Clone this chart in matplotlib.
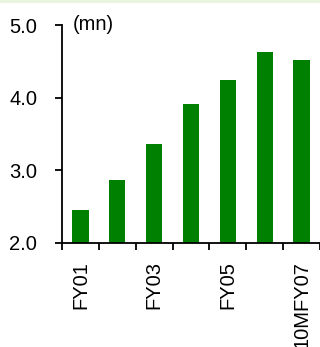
import matplotlib
matplotlib.use("Agg")
import matplotlib.pyplot as plt
from matplotlib.patches import Rectangle
import numpy as np

years = ["FY01", "FY02", "FY03", "FY04", "FY05", "FY06", "10MFY07"]
shown = ["FY01", "", "FY03", "", "FY05", "", "10MFY07"]
values = [2.45, 2.87, 3.36, 3.91, 4.24, 4.63, 4.52]

plt.rcParams['font.family'] = ['Liberation Sans', 'DejaVu Sans']
plt.rcParams['font.size'] = 14.5

fig = plt.figure(figsize=(3.2, 3.47), dpi=100)
# thin pale green band along the top edge
fig.patches.append(Rectangle((0, 1 - 3/347), 1, 3/347, transform=fig.transFigure,
                             facecolor='#eaf5e0', edgecolor='none'))

ax = fig.add_axes([62/320, 104/347, 258/320, 218/347])
x = np.arange(len(years))
ax.bar(x, values, width=0.44, color='#008000')

ax.set_xlim(-0.5, len(years) - 0.5)
ax.set_ylim(2.0, 5.0)
ax.set_yticks([2.0, 3.0, 4.0, 5.0])
ax.set_yticklabels(["2.0", "3.0", "4.0", "5.0"])

ax.set_xticks(x)
ax.set_xticklabels(shown, rotation=90)
ax.set_xticks(np.arange(-0.5, len(years)), minor=True)
ax.tick_params(axis='x', which='major', length=0, pad=13)
ax.tick_params(axis='x', which='minor', length=5, width=1.3, direction='out')
ax.tick_params(axis='y', length=5, width=1.3, direction='out', pad=13)

for side in ['top', 'right']:
    ax.spines[side].set_visible(False)
for side in ['left', 'bottom']:
    ax.spines[side].set_linewidth(1.3)

ax.text(0.04, 1.0, "(mn)", transform=ax.transAxes, ha='left', va='center')

fig.savefig("out.png", dpi=100)
